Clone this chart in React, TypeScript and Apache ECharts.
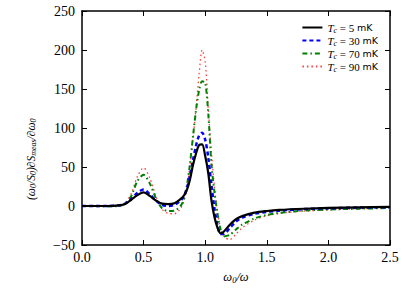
import React, { useEffect, useRef } from "react";
import * as echarts from "echarts";

const xValues = [0, 0.1, 0.2, 0.3, 0.35, 0.4, 0.45, 0.5, 0.55, 0.6, 0.65, 0.7, 0.75, 0.8, 0.825, 0.85, 0.875, 0.9, 0.925, 0.95, 0.975, 1.0, 1.025, 1.05, 1.075, 1.1, 1.125, 1.15, 1.2, 1.25, 1.3, 1.4, 1.5, 1.6, 1.8, 2.0, 2.25, 2.5];

const t5 = [0, 0, 0, 0.8, 2.5, 8, 14, 17.5, 13, 7, 3, 2.5, 3.5, 9, 13, 20, 33, 52, 67, 78, 79, 64, 42, 8, -14, -28, -35, -33, -24, -17, -13, -8.5, -6.4, -5, -3.5, -2.5, -1.8, -1.2];
const t30 = [0, 0, 0, 0.8, 3, 9, 17, 21, 15, 7, 1.5, 0, 1.5, 7, 12, 22, 38, 58, 77, 90, 94, 85, 62, 28, -3, -25, -36, -36, -28, -20, -15, -10, -7.5, -6, -4, -3, -2, -1.5];
const t70 = [0, 0, -0.5, 0, 3, 13, 32, 40, 29, 10, -3, -6.5, -6, 0, 8, 25, 52, 88, 122, 148, 160, 158, 118, 55, 18, -10, -30, -39, -37, -30, -24, -16, -11.5, -9, -6, -4.5, -3.5, -2.5];
const t90 = [0, 0, -0.5, 0, 4, 16, 38, 49, 36, 13, -4, -9.5, -10, -3, 5, 22, 50, 85, 125, 168, 200, 185, 125, 70, 25, -8, -28, -39, -43, -36, -28, -18, -12.5, -9.5, -6.5, -5, -3.5, -2.5];

const seriesNames = ["5", "30", "70", "90"];
const xTicks = { min: 0, max: 2.5, interval: 0.5 };
const yTicks = { min: -50, max: 250, interval: 50 };

const SERIF = "Liberation Serif";
const SANS = "DejaVu Sans";

export default function App() {
  const ref = useRef<HTMLDivElement>(null);
  useEffect(() => {
    const chart = echarts.init(ref.current!, null, { renderer: "svg" });
    const pair = (ys: number[]) => xValues.map((x, i) => [x, ys[i]]);
    const styles = [
      { color: "#000000", width: 2.2, type: "solid" as any },
      { color: "#0000ff", width: 2.5, type: [4, 3] as any },
      { color: "#008000", width: 2, type: [5, 3, 1.5, 3] as any },
      { color: "#ff4040", width: 1.3, type: [1.5, 3] as any },
    ];
    const allData = [t5, t30, t70, t90];
    const rich = {
      t: { fontFamily: SERIF, fontStyle: "italic", fontSize: 11, color: "#000" },
      s: { fontFamily: SERIF, fontStyle: "italic", fontSize: 8, color: "#000", padding: [5, 0, 0, 0] },
      n: { fontFamily: SERIF, fontSize: 11, color: "#000" },
      u: { fontFamily: SANS, fontSize: 9.5, color: "#000" },
    };
    const axisCommon = {
      axisLine: { onZero: false, lineStyle: { color: "#000", width: 1.5 } },
      axisTick: { inside: true, length: 5, lineStyle: { color: "#000", width: 1 } },
      splitLine: { show: false },
    };
    const nameRich = {
      a: { fontFamily: SERIF, fontStyle: "italic", fontSize: 12.5, color: "#000" },
      b: { fontFamily: SERIF, fontStyle: "italic", fontSize: 8.5, color: "#000", padding: [5, 0, 0, 0] },
    };
    const yNameRich = {
      a: { fontFamily: SERIF, fontStyle: "italic", fontSize: 11.5, color: "#000" },
      b: { fontFamily: SERIF, fontStyle: "italic", fontSize: 8, color: "#000", padding: [5, 0, 0, 0] },
    };
    const tickLabel = { fontFamily: SERIF, fontSize: 14, color: "#000" };
    chart.setOption({
      animation: false,
      textStyle: { fontFamily: SERIF },
      grid: { left: 82, right: 17, top: 11, bottom: 44, containLabel: false },
      graphic: [
        {
          type: "text",
          x: 31,
          y: 200,
          rotation: Math.PI / 2,
          style: {
            text: "{a|(ω}{b|0}{a|/S}{b|0}{a|)∂S}{b|meas}{a|/∂ω}{b|0}",
            rich: yNameRich,
            align: "left",
            verticalAlign: "middle",
          },
        },
      ],
      legend: {
        orient: "vertical",
        right: 24,
        top: 17,
        itemGap: 1,
        itemWidth: 20,
        itemHeight: 9,
        data: seriesNames,
        itemStyle: { opacity: 0 },
        formatter: (name: string) => `{t|T}{s|c}{n| = ${name} }{u|mK}`,
        textStyle: { rich },
      },
      xAxis: [
        {
          type: "value",
          min: xTicks.min,
          max: xTicks.max,
          interval: xTicks.interval,
          position: "bottom",
          ...axisCommon,
          axisLabel: {
            margin: 5,
            ...tickLabel,
            formatter: (v: number) => `{l|${v.toFixed(1)}}`,
            rich: { l: tickLabel },
          },
          name: "{a|ω}{b|0}{a|/ω}",
          nameLocation: "middle",
          nameGap: 25,
          nameTextStyle: { rich: nameRich },
        },
        {
          type: "value",
          min: xTicks.min,
          max: xTicks.max,
          interval: xTicks.interval,
          position: "top",
          ...axisCommon,
          axisLabel: { show: false },
        },
      ],
      yAxis: [
        {
          type: "value",
          min: yTicks.min,
          max: yTicks.max,
          interval: yTicks.interval,
          position: "left",
          ...axisCommon,
          axisLabel: {
            margin: 7,
            ...tickLabel,
            formatter: (v: number) => `{l|${String(v).replace("-", "\u2212")}}`,
            rich: { l: tickLabel },
          },
        },
        {
          type: "value",
          min: yTicks.min,
          max: yTicks.max,
          interval: yTicks.interval,
          position: "right",
          ...axisCommon,
          axisLabel: { show: false },
        },
      ],
      series: allData.map((d, i) => ({
        name: seriesNames[i],
        type: "line",
        data: pair(d),
        smooth: 0.3,
        symbol: "none",
        lineStyle: styles[i],
        itemStyle: { color: styles[i].color },
        z: 10 - i,
      })),
    });
    return () => chart.dispose();
  }, []);
  return (
    <div
      ref={ref}
      style={{ position: "absolute", left: 0, top: 0, width: 407, height: 289 }}
    />
  );
}
